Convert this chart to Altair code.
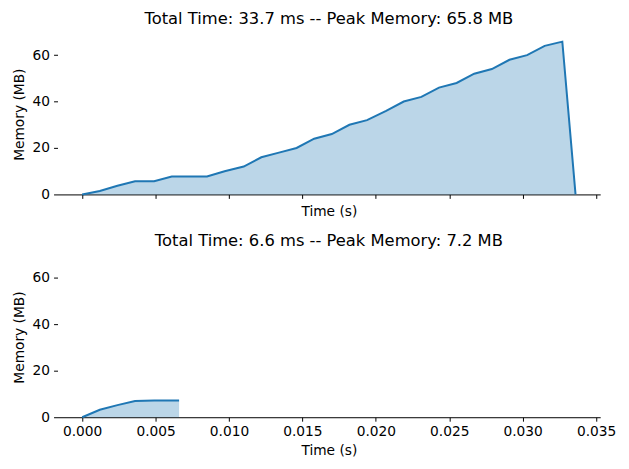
import altair as alt
import pandas as pd

# Top run (33.7 ms, 65.8 MB)
top_time = [0.0, 0.0012, 0.0024, 0.0036, 0.0049, 0.0061, 0.0073, 0.0085, 0.0097, 0.0110,
            0.0122, 0.0134, 0.0146, 0.0158, 0.0170, 0.0182, 0.0194, 0.0207, 0.0219, 0.0231,
            0.0243, 0.0255, 0.0267, 0.0279, 0.0291, 0.0303, 0.0315, 0.0327, 0.0336]
top_mem = [0.0, 1.5, 3.7, 5.7, 5.7, 7.7, 7.7, 7.7, 10.0, 12.0,
           16.0, 18.0, 20.0, 24.0, 26.0, 30.0, 32.0, 36.0, 40.0, 42.0,
           46.0, 48.0, 52.0, 54.0, 58.0, 60.0, 64.0, 65.8, 0.0]

# Bottom run (6.6 ms, 7.2 MB)
bot_time = [0.0, 0.0012, 0.0024, 0.0036, 0.0049, 0.0066]
bot_mem = [0.0, 3.2, 5.2, 7.0, 7.2, 7.2]

titles = ["Total Time: 33.7 ms -- Peak Memory: 65.8 MB",
          "Total Time: 6.6 ms -- Peak Memory: 7.2 MB"]
x_ticks = [0.0, 0.005, 0.010, 0.015, 0.020, 0.025, 0.030, 0.035]
y_ticks = [0, 20, 40, 60]

X_DOMAIN = [-0.00168, 0.03528]
Y_DOMAIN = [0, 69.1]
BLUE = "#1f77b4"


def panel(times, mems, title, show_labels):
    df = pd.DataFrame({"t": times, "m": mems})
    x = alt.X("t:Q", scale=alt.Scale(domain=X_DOMAIN, nice=False, zero=False),
              axis=alt.Axis(values=x_ticks, format=".3f", labels=show_labels,
                            title="Time (s)", grid=False, domain=True,
                            domainColor="black", tickColor="black", tickSize=4,
                            labelPadding=3, titlePadding=6))
    y = alt.Y("m:Q", scale=alt.Scale(domain=Y_DOMAIN, nice=False),
              axis=alt.Axis(values=y_ticks, format="d", title="Memory (MB)",
                            grid=False, domain=False, tickColor="black",
                            tickSize=4, labelPadding=4, titlePadding=6))
    base = alt.Chart(df)
    area = base.mark_area(color=BLUE, opacity=0.3).encode(x=x, y=y)
    line = base.mark_line(color=BLUE, strokeWidth=2).encode(x=x, y=y)
    return alt.layer(area, line).properties(
        width=548, height=162,
        title=alt.TitleParams(title, fontSize=16.5, fontWeight="normal",
                              font="DejaVu Sans", color="black", offset=7))


chart = alt.vconcat(
    panel(top_time, top_mem, titles[0], False),
    panel(bot_time, bot_mem, titles[1], True),
    spacing=14,
).configure_view(stroke=None).configure_axis(
    labelFont="DejaVu Sans", titleFont="DejaVu Sans", labelFontSize=13.9,
    titleFontSize=13.9, titleFontWeight="normal", labelColor="black",
    titleColor="black",
).properties(padding={"left": 4, "top": 0, "right": 5, "bottom": 5})

chart.save("out.html", embed_options={"renderer": "svg", "actions": False})
